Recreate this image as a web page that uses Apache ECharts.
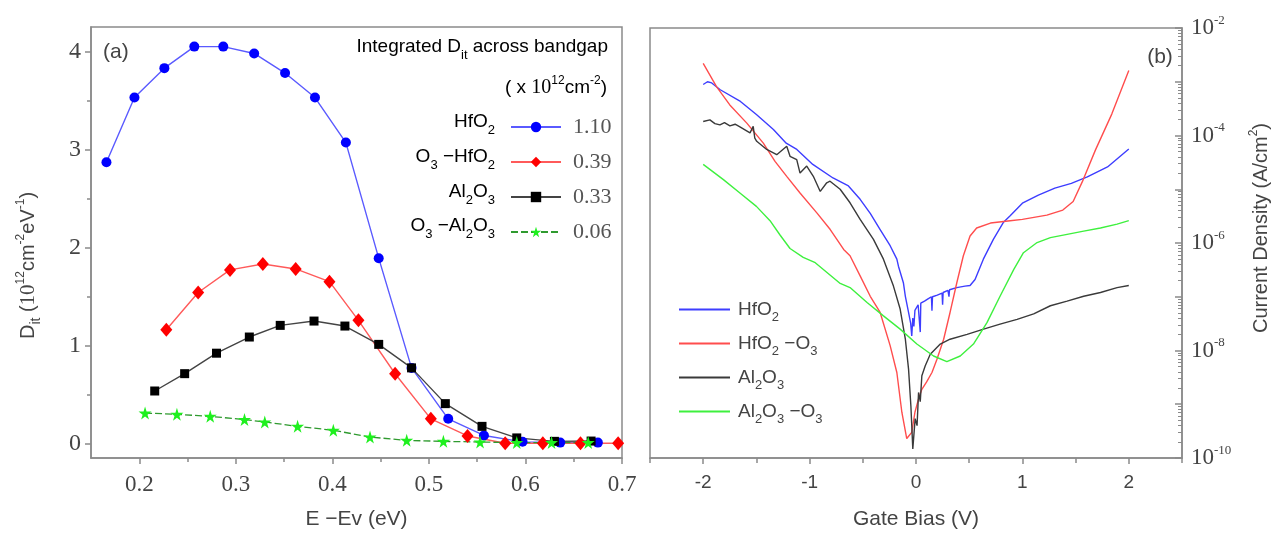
<!DOCTYPE html>
<html><head><meta charset="utf-8">
<script src="https://cdn.jsdelivr.net/npm/echarts@6/dist/echarts.min.js"></script>
<style>html,body{margin:0;padding:0;background:#fff}#c{width:1276px;height:535px}</style>
</head><body><div id="c"></div>
<script>
// ---------- Panel (a): Dit vs E-Ev ----------
const hfo2E    = [0.166,0.195,0.226,0.257,0.287,0.319,0.351,0.382,0.414,0.448,0.482,0.520,0.557,0.597,0.636,0.675];
const hfo2D    = [2.87,3.53,3.83,4.05,4.05,3.98,3.78,3.53,3.07,1.89,0.77,0.25,0.08,0.015,0.007,0.007];
const o3hfo2E  = [0.228,0.261,0.294,0.328,0.362,0.397,0.427,0.465,0.502,0.540,0.579,0.618,0.657,0.696];
const o3hfo2D  = [1.16,1.54,1.77,1.83,1.78,1.65,1.255,0.71,0.25,0.075,0.0,0.0,0.0,0.0];
const al2o3E   = [0.216,0.247,0.280,0.314,0.346,0.381,0.413,0.448,0.482,0.517,0.555,0.591,0.630,0.668];
const al2o3D   = [0.534,0.711,0.92,1.085,1.204,1.248,1.197,1.01,0.77,0.405,0.173,0.055,0.02,0.023];
const o3al2o3E = [0.206,0.239,0.2735,0.309,0.330,0.364,0.401,0.439,0.477,0.515,0.553,0.591,0.627,0.665];
const o3al2o3D = [0.309,0.296,0.275,0.242,0.218,0.173,0.133,0.064,0.03,0.02,0.013,0.007,0.007,0.007];
const ditTotals = ['1.10','0.39','0.33','0.06'];
const aXTicks = [0.2,0.3,0.4,0.5,0.6,0.7];
const aXMinor = [0.25,0.35,0.45,0.55,0.65];
const aYTicks = [0,1,2,3,4];
const aYMinor = [0.5,1.5,2.5,3.5];

// ---------- Panel (b): J-V ----------
const ivHfO2 = [[-2.0,8.9e-4],[-1.96,1.0e-3],[-1.92,9.5e-4],[-1.84,7.1e-4],[-1.65,4.3e-4],[-1.50,2.45e-4],[-1.34,1.29e-4],[-1.22,7.2e-5],[-1.12,5.5e-5],[-0.97,2.9e-5],[-0.78,1.62e-5],[-0.635,1.15e-5],[-0.525,6.5e-6],[-0.43,3.55e-6],[-0.337,1.78e-6],[-0.243,8.9e-7],[-0.18,5.0e-7],[-0.165,3.7e-7],[-0.118,1.8e-7],[-0.10,1.02e-7],[-0.07,5.1e-8],[-0.05,3.2e-8],[-0.04,1.86e-8],[-0.03,4.0e-8],[-0.02,2.8e-8],[-0.01,5.6e-8],[0.02,7.1e-8],[0.035,7.6e-8],[0.04,2.2e-8],[0.045,7.6e-8],[0.08,8.3e-8],[0.12,9.3e-8],[0.145,1.0e-7],[0.15,5.5e-8],[0.155,1.0e-7],[0.2,1.07e-7],[0.245,1.17e-7],[0.25,7.1e-8],[0.255,1.2e-7],[0.30,1.32e-7],[0.31,1.0e-7],[0.315,1.35e-7],[0.383,1.48e-7],[0.46,1.58e-7],[0.508,1.62e-7],[0.555,2.1e-7],[0.633,5.0e-7],[0.727,1.17e-6],[0.82,2.4e-6],[0.885,3.2e-6],[1.0,5.5e-6],[1.15,7.8e-6],[1.305,1.05e-5],[1.46,1.29e-5],[1.61,1.7e-5],[1.80,2.6e-5],[2.0,5.6e-5]];
const ivHfO2O3 = [[-2.0,2.2e-3],[-1.875,8.1e-4],[-1.75,3.7e-4],[-1.59,1.7e-4],[-1.435,7.2e-5],[-1.325,3.3e-5],[-1.215,1.74e-5],[-1.09,8.5e-6],[-0.93,3.6e-6],[-0.806,1.78e-6],[-0.68,7.6e-7],[-0.62,5.8e-7],[-0.525,2.45e-7],[-0.43,1.02e-7],[-0.337,5.1e-8],[-0.243,1.23e-8],[-0.18,3.9e-9],[-0.133,7.1e-10],[-0.087,2.3e-10],[-0.04,3.0e-10],[-0.01,7.1e-10],[0.024,1.26e-9],[0.055,1.9e-9],[0.10,2.6e-9],[0.15,3.9e-9],[0.197,6.9e-9],[0.26,1.62e-8],[0.32,5.1e-8],[0.383,1.8e-7],[0.445,5.8e-7],[0.508,1.35e-6],[0.57,1.9e-6],[0.70,2.35e-6],[0.885,2.6e-6],[1.0,2.75e-6],[1.23,3.3e-6],[1.38,4.1e-6],[1.477,5.9e-6],[1.57,1.48e-5],[1.687,5.4e-5],[1.84,2.5e-4],[2.0,1.62e-3]];
const ivAl2O3 = [[-2.0,1.82e-4],[-1.937,1.95e-4],[-1.89,1.66e-4],[-1.843,1.58e-4],[-1.80,1.74e-4],[-1.749,1.51e-4],[-1.70,1.62e-4],[-1.655,1.45e-4],[-1.56,1.12e-4],[-1.53,1.48e-4],[-1.515,8.9e-5],[-1.497,7.8e-5],[-1.403,5.5e-5],[-1.309,4.4e-5],[-1.215,6.3e-5],[-1.184,4.1e-5],[-1.121,3.55e-5],[-1.09,2.0e-5],[-1.027,2.7e-5],[-0.965,1.74e-5],[-0.90,9.1e-6],[-0.839,1.32e-5],[-0.808,1.41e-5],[-0.713,1.0e-5],[-0.62,5.6e-6],[-0.525,2.75e-6],[-0.40,1.17e-6],[-0.306,5.0e-7],[-0.212,1.58e-7],[-0.149,5.9e-8],[-0.10,1.62e-8],[-0.07,4.5e-9],[-0.048,9.3e-10],[-0.03,1.48e-10],[-0.008,5.4e-10],[0.01,4.0e-10],[0.024,1.66e-9],[0.04,1.12e-9],[0.055,3.4e-9],[0.087,5.2e-9],[0.134,8.5e-9],[0.228,1.32e-8],[0.32,1.62e-8],[0.48,2.0e-8],[0.635,2.5e-8],[0.79,3.1e-8],[0.95,3.8e-8],[1.106,4.8e-8],[1.263,6.8e-8],[1.42,8.3e-8],[1.576,1.02e-7],[1.734,1.2e-7],[1.89,1.48e-7],[2.0,1.62e-7]];
const ivAl2O3O3 = [[-2.0,2.9e-5],[-1.81,1.51e-5],[-1.655,8.5e-6],[-1.50,4.8e-6],[-1.372,2.6e-6],[-1.278,1.41e-6],[-1.184,7.9e-7],[-1.06,5.4e-7],[-0.947,4.3e-7],[-0.718,1.8e-7],[-0.62,1.48e-7],[-0.46,7.8e-8],[-0.306,4.4e-8],[-0.149,2.5e-8],[0.008,1.32e-8],[0.165,7.9e-9],[0.29,6.2e-9],[0.416,7.9e-9],[0.54,1.32e-8],[0.667,3.3e-8],[0.79,1.02e-7],[0.918,3.2e-7],[1.01,6.6e-7],[1.138,1.02e-6],[1.263,1.26e-6],[1.42,1.45e-6],[1.576,1.66e-6],[1.734,1.9e-6],[1.89,2.24e-6],[2.0,2.6e-6]];
const bXTicks = [-2,-1,0,1,2];
const bXMinor = [-2.5,-1.5,-0.5,0.5,1.5,2.5];
const bYMin = 1e-10, bYMax = 1e-2;
const bYMinor = [];
for (let d = -10; d < -2; d++) for (let m = 2; m <= 9; m++) bYMinor.push(+(m + 'e' + d));

// ---------- styling ----------
const SANS = 'Liberation Sans, Arial, sans-serif';
const SERIF = 'Liberation Serif, Times New Roman, serif';
const AX = '#8a8a8a', TXT = '#444';
const STAR = 'path://M50,0 L61,35 L98,35 L68,57 L79,91 L50,70 L21,91 L32,57 L2,35 L39,35 Z';
const pairs = (xs, ys) => xs.map((x, i) => [x, ys[i]]);

const richSans = (size, color) => ({
  n: {fontFamily: SANS, fontSize: size, lineHeight: 30, color: color},
  s: {fontFamily: SANS, fontSize: Math.round(size*0.68), lineHeight: 12, padding: [16,0,0,0], color: color},
  p: {fontFamily: SANS, fontSize: Math.round(size*0.62), lineHeight: 12, padding: [0,0,14,0], color: color},
  r: {fontFamily: SERIF, fontSize: size+1, lineHeight: 30, color: color}
});

const aLegendNames = {a0: ditTotals[0], a1: ditTotals[1], a2: ditTotals[2], a3: ditTotals[3]};
const bLegendNames = {
  b0: '{n|HfO}{s|2}',
  b1: '{n|HfO}{s|2}{n| −O}{s|3}',
  b2: '{n|Al}{s|2}{n|O}{s|3}',
  b3: '{n|Al}{s|2}{n|O}{s|3}{n| −O}{s|3}'
};
const aNameRows = [
  '{n|HfO}{s|2}',
  '{n|O}{s|3}{n| −HfO}{s|2}',
  '{n|Al}{s|2}{n|O}{s|3}',
  '{n|O}{s|3}{n| −Al}{s|2}{n|O}{s|3}'
];
const aRowY = [122, 157, 192, 226];

const valueAxisBase = (extra) => Object.assign({
  type: 'value', splitLine: {show: false},
  axisLine: {onZero: false, lineStyle: {color: AX, width: 1.5}},
  axisTick: {lineStyle: {color: AX, width: 1.5}}
}, extra);

const option = {
  animation: false,
  backgroundColor: '#fff',
  grid: [
    {left: 91, right: 654, top: 27, bottom: 77, show: true, borderColor: AX, borderWidth: 1.5},
    {left: 650, right: 94, top: 28, bottom: 76, show: true, borderColor: AX, borderWidth: 1.5}
  ],
  xAxis: [
    valueAxisBase({gridIndex: 0, min: 0.15, max: 0.7, position: 'bottom',
      axisTick: {customValues: aXTicks, length: 6, lineStyle: {color: AX, width: 1.5}},
      axisLabel: {customValues: aXTicks, margin: 15, fontFamily: SERIF, fontSize: 23, color: TXT, formatter: v => v.toFixed(1)},
      name: 'E −Ev (eV)', nameLocation: 'middle', nameGap: 51,
      nameTextStyle: {fontFamily: SANS, fontSize: 21, color: TXT}}),
    valueAxisBase({gridIndex: 0, min: 0.15, max: 0.7, position: 'bottom',
      axisLine: {show: false, onZero: false},
      axisTick: {customValues: aXMinor, length: 4, lineStyle: {color: AX, width: 1.5}},
      axisLabel: {show: false}}),
    valueAxisBase({gridIndex: 1, min: -2.5, max: 2.5, position: 'bottom',
      axisTick: {customValues: bXTicks, length: 6, lineStyle: {color: AX, width: 1.5}},
      axisLabel: {customValues: bXTicks, margin: 15, fontFamily: SANS, fontSize: 19, color: TXT},
      name: 'Gate Bias (V)', nameLocation: 'middle', nameGap: 51,
      nameTextStyle: {fontFamily: SANS, fontSize: 21, color: TXT}}),
    valueAxisBase({gridIndex: 1, min: -2.5, max: 2.5, position: 'bottom',
      axisLine: {show: false, onZero: false},
      axisTick: {customValues: bXMinor, length: 5, lineStyle: {color: AX, width: 1.5}},
      axisLabel: {show: false}})
  ],
  yAxis: [
    valueAxisBase({gridIndex: 0, min: -0.15, max: 4.25, position: 'left',
      axisTick: {customValues: aYTicks, length: 6, lineStyle: {color: AX, width: 1.5}},
      axisLabel: {customValues: aYTicks, margin: 10, fontFamily: SERIF, fontSize: 24, color: TXT},
      name: '{n|D}{s|it}{n| (}{r|10}{p|12}{n|cm}{p|-2}{n|eV}{p|-1}{n|)}',
      nameLocation: 'middle', nameGap: 48, nameRotate: 90,
      nameTextStyle: {padding: [0, 46, 0, 0], rich: richSans(20, TXT)}}),
    valueAxisBase({gridIndex: 0, min: -0.15, max: 4.25, position: 'left',
      axisLine: {show: false, onZero: false},
      axisTick: {customValues: aYMinor, length: 4, lineStyle: {color: AX, width: 1.5}},
      axisLabel: {show: false}}),
    {gridIndex: 1, type: 'log', logBase: 10, min: bYMin, max: bYMax, splitNumber: 8, position: 'right',
      splitLine: {show: false},
      axisLine: {onZero: false, lineStyle: {color: AX, width: 1.5}},
      axisTick: {inside: true, length: 7, lineStyle: {color: AX, width: 1.5}},
      axisLabel: {margin: 9, formatter: v => {
          const e = Math.round(Math.log10(v));
          return (e % 2 === 0) ? '{b|10}{q|' + e + '}' : '';
        },
        rich: {
          b: {fontFamily: SERIF, fontSize: 23, lineHeight: 24, color: TXT},
          q: {fontFamily: SERIF, fontSize: 13, lineHeight: 13, padding: [0,0,15,0], color: TXT}
        }},
      name: '{n|Current Density (A/cm}{p|2}{n|)}',
      nameLocation: 'middle', nameGap: 64, nameRotate: 90,
      nameTextStyle: {padding: [0, 0, 0, 30], rich: richSans(20, TXT)}},
    {gridIndex: 1, type: 'log', logBase: 10, min: bYMin, max: bYMax, splitNumber: 8, position: 'right',
      splitLine: {show: false},
      axisLine: {show: false, onZero: false},
      axisTick: {inside: true, customValues: bYMinor, length: 4, lineStyle: {color: AX, width: 1}},
      axisLabel: {show: false}}
  ],
  legend: [
    {left: 505, top: 110, orient: 'vertical', selectedMode: false,
      itemWidth: 50, itemHeight: 13, itemGap: 11,
      data: ['a0','a1','a2','a3'],
      formatter: n => aLegendNames[n],
      textStyle: {fontFamily: SERIF, fontSize: 22, lineHeight: 24, color: '#555', padding: [0,0,0,7]}},
    {left: 674, top: 290, orient: 'vertical', selectedMode: false,
      icon: 'rect', itemWidth: 51, itemHeight: 2, itemGap: 5,
      data: ['b0','b1','b2','b3'],
      formatter: n => bLegendNames[n],
      textStyle: {padding: [0,0,0,3], rich: richSans(19, TXT)}}
  ],
  graphic: [
    {type: 'text', x: 103, y: 52, style: {text: '(a)', font: '21px ' + SANS, fill: TXT, align: 'left', verticalAlign: 'middle'}},
    {type: 'text', x: 1160, y: 57, style: {text: '(b)', font: '21px ' + SANS, fill: TXT, align: 'center', verticalAlign: 'middle'}},
    {type: 'text', x: 608, y: 47, style: {text: '{n|Integrated D}{s|it}{n| across bandgap}', rich: richSans(19, TXT), align: 'right', verticalAlign: 'middle'}},
    {type: 'text', x: 607, y: 88, style: {text: '{n|( x }{r|10}{p|12}{n|cm}{p|-2}{n|)}', rich: richSans(19, TXT), align: 'right', verticalAlign: 'middle'}}
  ].concat(aNameRows.map((t, i) => ({
    type: 'text', x: 495, y: aRowY[i],
    style: {text: t, rich: richSans(19, TXT), align: 'right', verticalAlign: 'middle'}
  }))),
  series: [
    {name: 'a0', type: 'line', xAxisIndex: 0, yAxisIndex: 0, data: pairs(hfo2E, hfo2D),
      symbol: 'circle', symbolSize: 10, itemStyle: {color: '#0000ff'}, lineStyle: {color: '#5a5aff', width: 1.4}},
    {name: 'a1', type: 'line', xAxisIndex: 0, yAxisIndex: 0, data: pairs(o3hfo2E, o3hfo2D),
      symbol: 'diamond', symbolSize: [12, 14], itemStyle: {color: '#ff0000'}, lineStyle: {color: '#ff5a5a', width: 1.4}},
    {name: 'a2', type: 'line', xAxisIndex: 0, yAxisIndex: 0, data: pairs(al2o3E, al2o3D),
      symbol: 'rect', symbolSize: 9, itemStyle: {color: '#000'}, lineStyle: {color: '#444', width: 1.4}},
    {name: 'a3', type: 'line', xAxisIndex: 0, yAxisIndex: 0, data: pairs(o3al2o3E, o3al2o3D),
      symbol: STAR, symbolSize: 13, itemStyle: {color: '#1ef01e'}, lineStyle: {color: '#2f9a2f', width: 1.3, type: [7, 3]}},
    {name: 'b0', type: 'line', xAxisIndex: 2, yAxisIndex: 2, data: ivHfO2, showSymbol: false, symbol: 'none',
      itemStyle: {color: '#3d3dff'}, lineStyle: {color: '#3d3dff', width: 1.4}},
    {name: 'b1', type: 'line', xAxisIndex: 2, yAxisIndex: 2, data: ivHfO2O3, showSymbol: false, symbol: 'none',
      itemStyle: {color: '#ff4d4d'}, lineStyle: {color: '#ff4d4d', width: 1.4}},
    {name: 'b2', type: 'line', xAxisIndex: 2, yAxisIndex: 2, data: ivAl2O3, showSymbol: false, symbol: 'none',
      itemStyle: {color: '#3a3a3a'}, lineStyle: {color: '#3a3a3a', width: 1.4}},
    {name: 'b3', type: 'line', xAxisIndex: 2, yAxisIndex: 2, data: ivAl2O3O3, showSymbol: false, symbol: 'none',
      itemStyle: {color: '#3ef03e'}, lineStyle: {color: '#3ef03e', width: 1.4}}
  ]
};
const chart = echarts.init(document.getElementById('c'));
chart.setOption(option);
</script>
</body></html>
